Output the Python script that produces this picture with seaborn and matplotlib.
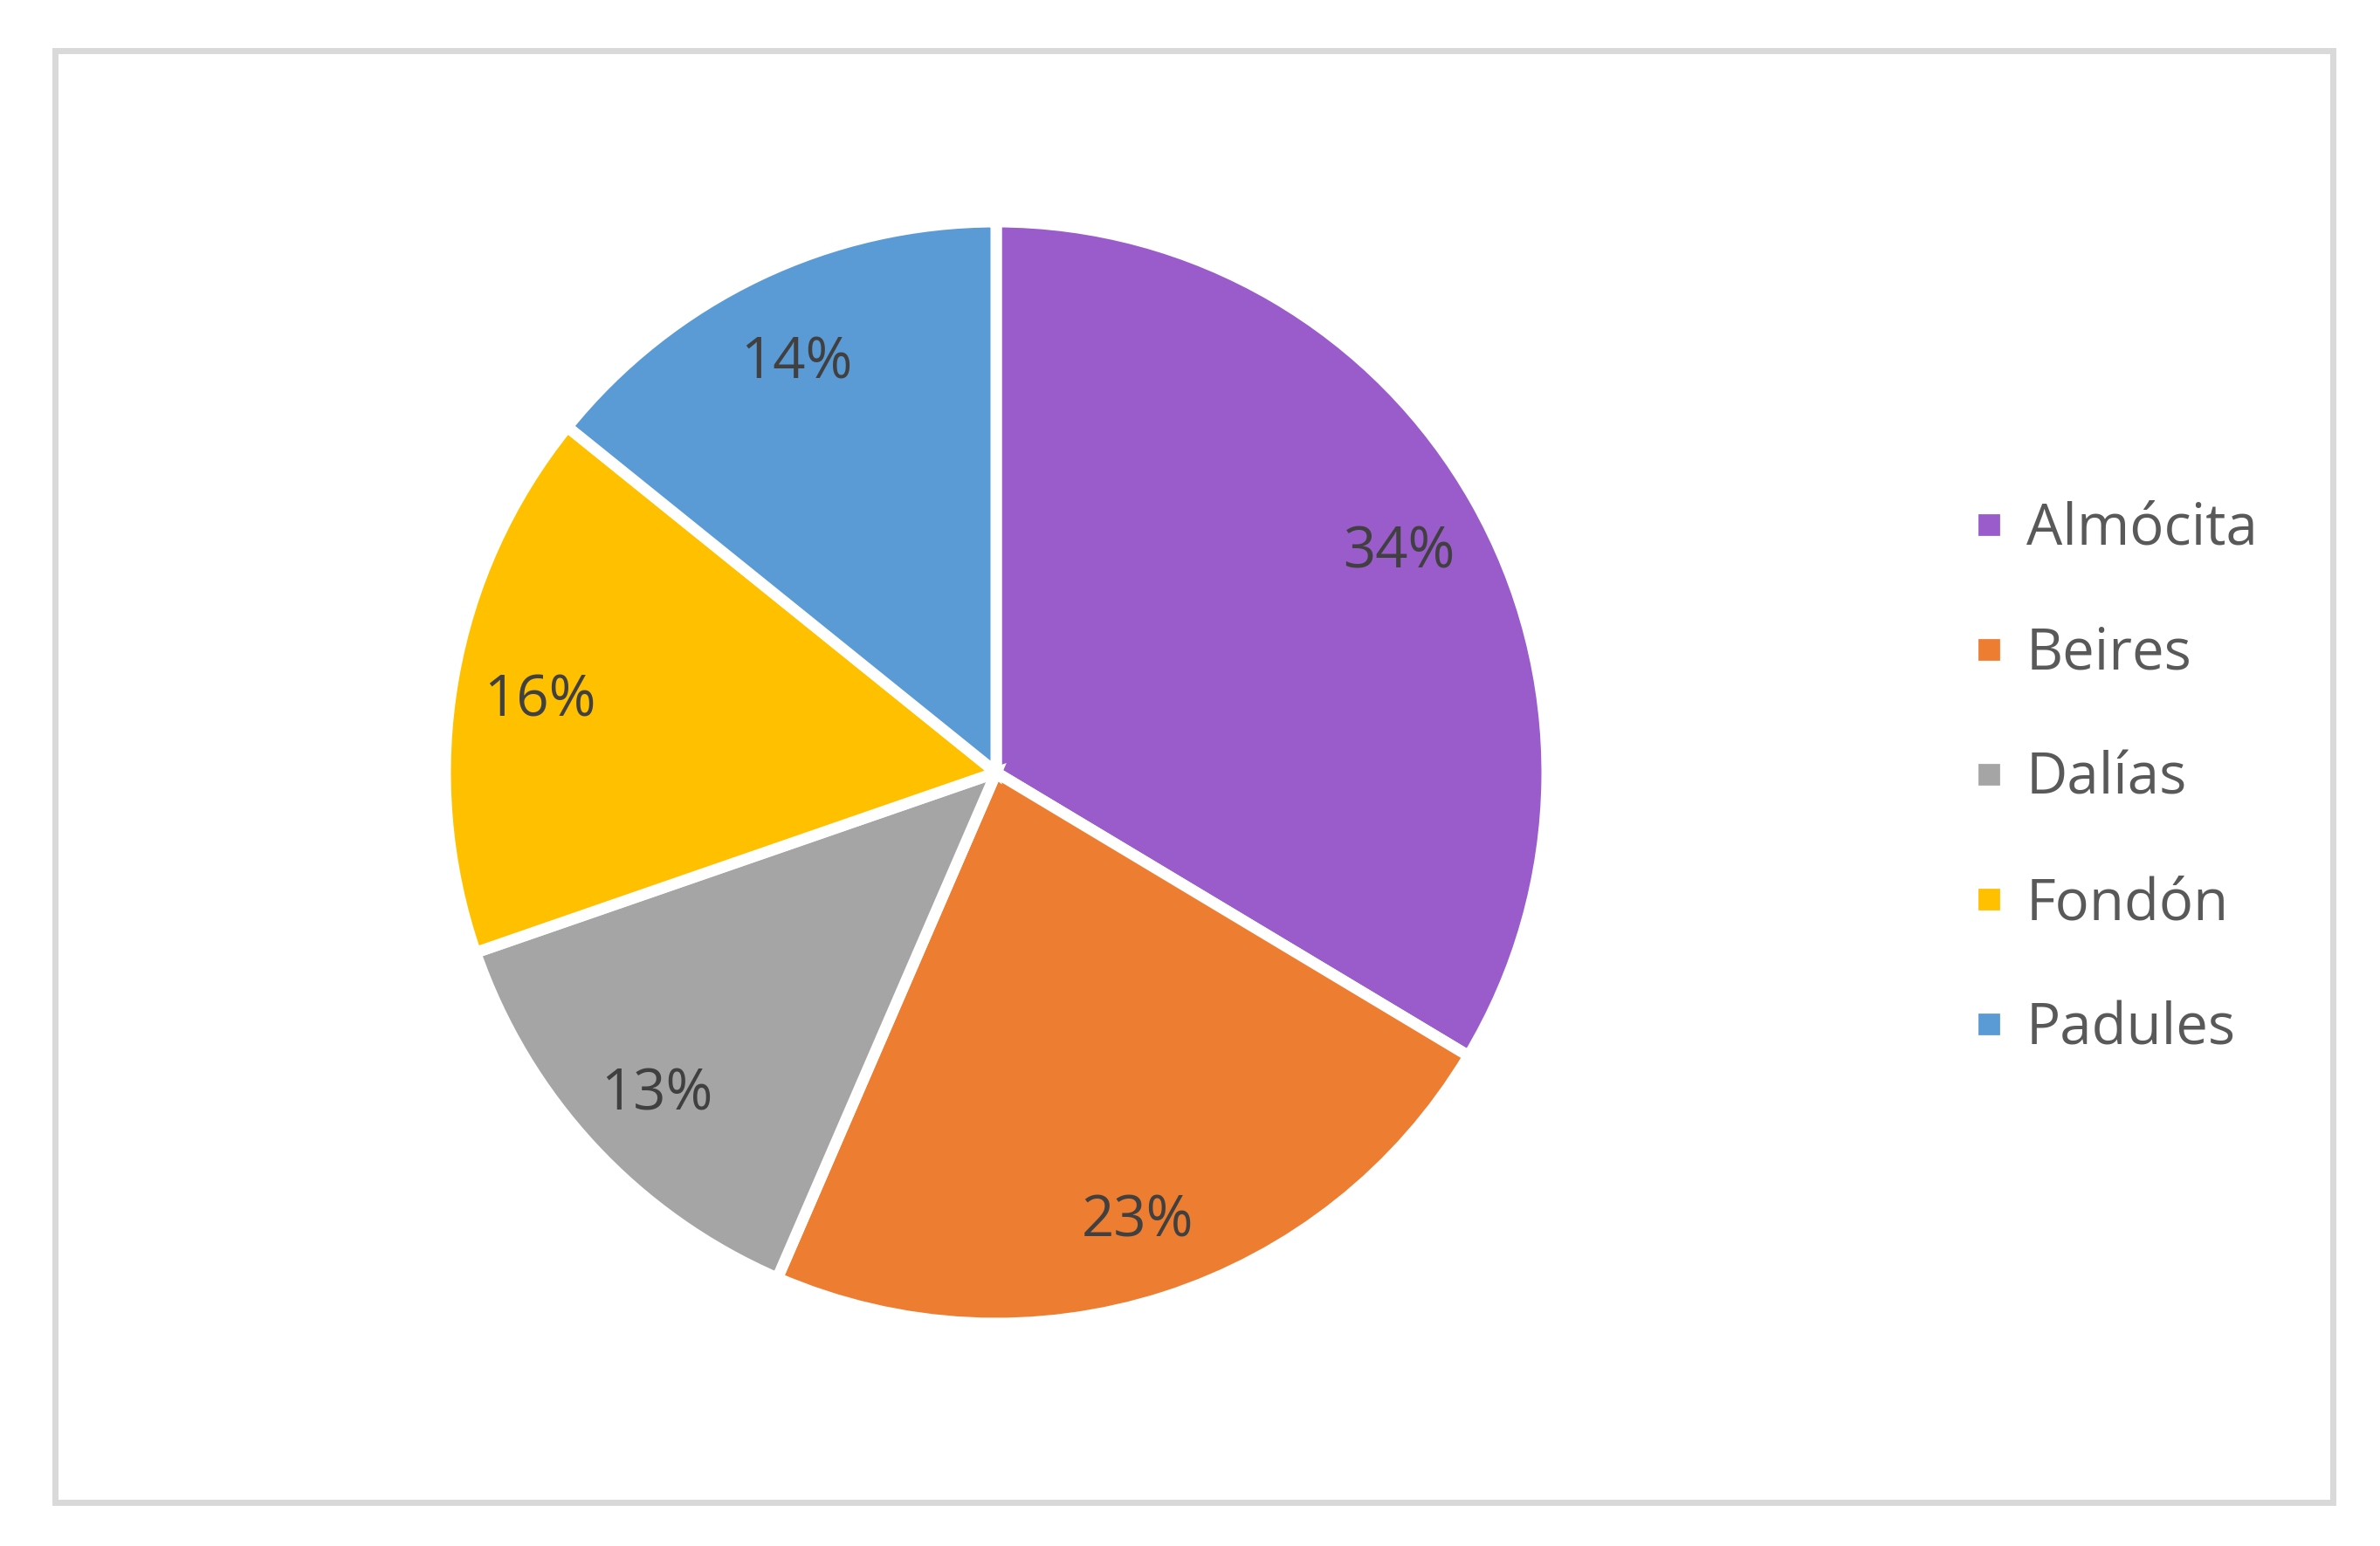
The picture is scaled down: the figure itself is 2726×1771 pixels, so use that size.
import numpy as np
import matplotlib.pyplot as plt
import matplotlib.patches as mpatches
from matplotlib.lines import Line2D
import seaborn as sns

# data (share of each municipality, %)
towns = ["Almócita", "Beires", "Dalías", "Fondón", "Padules"]
shares = [33.6, 22.9, 13.2, 16.1, 14.2]
colors = ["#9A5BCB", "#ED7D31", "#A5A5A5", "#FFC000", "#5B9BD5"]

sns.set_theme(style="white")
plt.rcParams['font.family'] = ['Open Sans', 'DejaVu Sans']

W, H, DPI = 2726, 1771, 200
fig = plt.figure(figsize=(W / DPI, H / DPI), dpi=DPI)

### outer chart border
fig.patches.append(mpatches.Rectangle((62.5 / W, 1 - 1721 / H), (2672 - 62.5) / W, (1721 - 57.5) / H,
                                      transform=fig.transFigure, fill=False,
                                      edgecolor="#D9D9D9", linewidth=7 * 72 / DPI))

### pie axes, square in pixels
cx, cy, R = 1141, 885, 631
ax = fig.add_axes([(cx - R) / W, 1 - (cy + R) / H, 2 * R / W, 2 * R / H])
wedges, texts, autotexts = ax.pie(shares, colors=colors, startangle=90, counterclock=False,
                                  autopct='%.0f%%', pctdistance=0.84, radius=1,
                                  wedgeprops=dict(edgecolor="white", linewidth=13 * 72 / DPI),
                                  textprops=dict(color="#404040", fontsize=23.5))
# nudge the percentage labels down a little (font metrics)
for t in autotexts:
    x, y = t.get_position()
    t.set_position((x, y - 0.015))
ax.set_xlim(-1, 1)
ax.set_ylim(-1, 1)
ax.set_aspect('equal')
ax.axis('off')

### legend on the right
handles = [Line2D([0], [0], marker='s', linestyle='', markersize=22 * 72 / DPI,
                  markerfacecolor=c, markeredgecolor=c) for c in colors]
leg = fig.legend(handles, towns, loc='center left', bbox_to_anchor=(2262 / W, 1 - 893 / H),
                 frameon=False, fontsize=23.5, labelspacing=1.18, handlelength=0.5,
                 handletextpad=0.4, borderpad=0, borderaxespad=0)
for t in leg.get_texts():
    t.set_color("#595959")

fig.savefig("out.png", dpi=DPI)
